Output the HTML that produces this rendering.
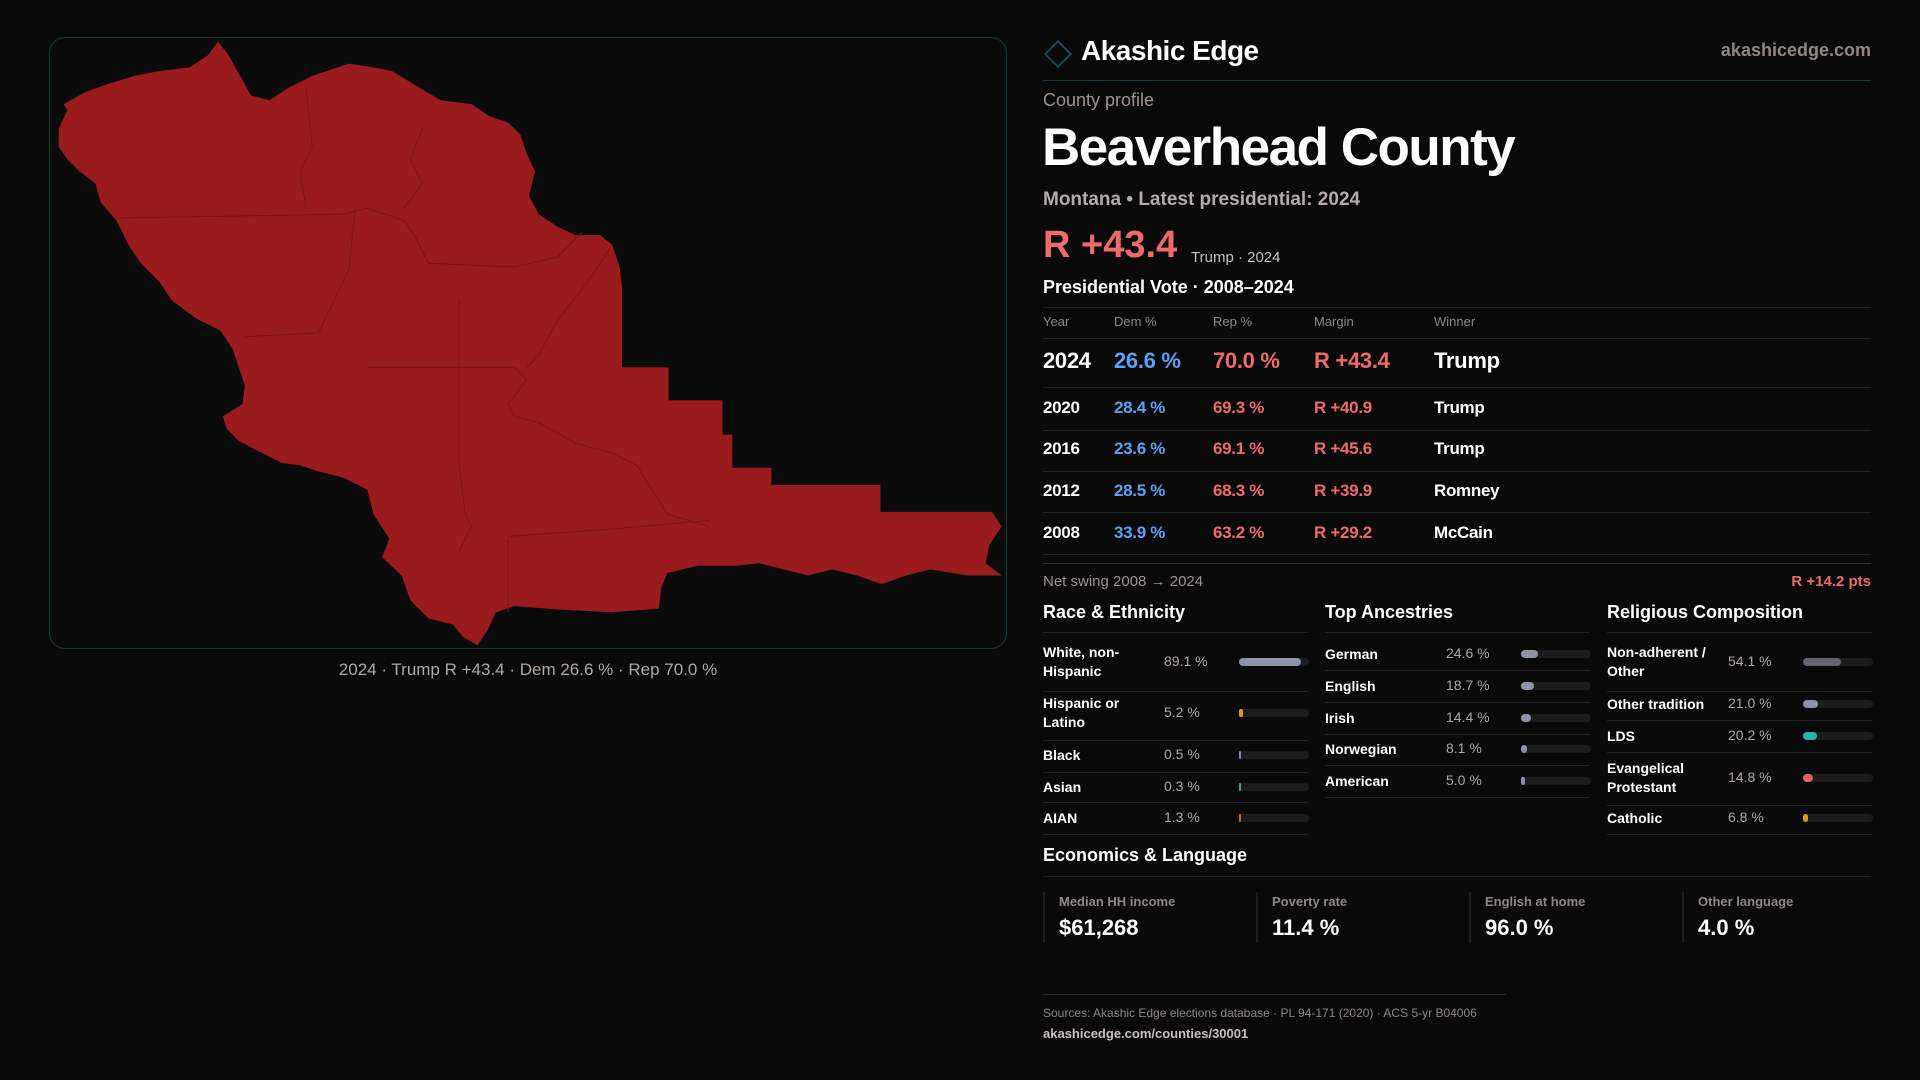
<!DOCTYPE html>
<html><head><meta charset="utf-8">
<style>
*{margin:0;padding:0;box-sizing:border-box}
body{width:1920px;height:1080px;background:#0a0909;font-family:"Liberation Sans",sans-serif;color:#fff;position:relative;overflow:hidden}
.a{position:absolute;white-space:nowrap}
.g{color:#9d948e}
.rule{position:absolute;height:1px;background:#222}
.dem{color:#5aa2f5}.rep{color:#f06a6a}
</style></head><body>
<div class="a" style="left:49px;top:37px;width:958px;height:612px;border:1px solid #123a3f;border-radius:16px;background:#0b0b0c"></div>
<svg class="a" style="left:0;top:0" width="1920" height="1080" viewBox="0 0 1568 882">
<polygon fill="#9a1b1e" points="178,34 186,44 195,60 205,78 220,82 235,72 255,62 285,52 305,55 320,58 340,70 360,82 385,85 400,95 415,100 425,110 430,125 437,140 432,160 440,175 455,185 470,192 490,192 500,200 506,218 508,235 508,300 546,300 546,327 590,327 590,355 598,355 598,382 630,382 630,396 719,396 719,418 810,418 818,430 808,445 805,460 818,470 790,470 760,465 740,470 720,477 700,470 680,465 660,470 640,465 620,460 600,462 570,462 545,468 540,480 538,497 500,500 460,498 420,495 405,500 398,515 390,527 378,520 370,510 350,505 335,490 328,470 312,455 318,440 305,420 300,400 280,390 260,385 245,380 230,378 210,368 195,360 185,350 182,340 198,330 200,315 195,300 190,285 180,270 160,260 140,245 130,230 115,215 105,200 95,180 82,165 78,150 65,140 55,130 48,120 48,105 55,90 52,85 70,75 90,68 110,62 130,58 155,55 170,45"/>
<g fill="none" stroke="#7a1518" stroke-width="0.8">
<path d="M95,178 L280,175 L300,170 L330,180 L340,195 L350,215 L420,218 L455,210 L475,190"/>
<path d="M250,72 L255,120 L245,140 L250,170"/>
<path d="M345,105 L335,130 L345,150 L330,170"/>
<path d="M290,170 L285,220 L260,272 L200,275"/>
<path d="M375,245 L375,300 L375,380 L380,420 L385,430 L375,450"/>
<path d="M300,300 L420,300 L430,310 L415,330 L420,340 L440,345 L470,362 L500,370 L520,380 L545,420 L580,430"/>
<path d="M500,200 L480,230 L455,262 L440,290 L430,300"/>
<path d="M415,440 L415,500"/>
<path d="M415,438 L500,432 L580,425"/>
</g>
</svg>
<div class="a g" style="left:49px;width:958px;top:660px;text-align:center;font-size:17px;color:#b0a8a2">2024 · Trump R +43.4 · Dem 26.6 % · Rep 70.0 %</div>

<div class="a" style="left:1048px;top:44px;width:20px;height:20px;border:2px solid #154d55;transform:rotate(45deg)"></div>
<div class="a" style="left:1081px;top:35px;font-size:28px;font-weight:bold;letter-spacing:-0.5px">Akashic Edge</div>
<div class="a g" style="right:49px;top:40px;font-size:18px;font-weight:bold;color:#8f8882">akashicedge.com</div>
<div class="rule" style="left:1043px;width:828px;top:80px;background:#133a3f"></div>
<div class="a g" style="left:1043px;top:90px;font-size:18px">County profile</div>
<div class="a" style="left:1042px;top:117px;font-size:53px;font-weight:bold;letter-spacing:-1.5px">Beaverhead County</div>
<div class="a" style="left:1043px;top:189px;font-size:19px;font-weight:bold;color:#b4aca6">Montana • Latest presidential: 2024</div>
<div class="a rep" style="left:1043px;top:224px;font-size:38px;font-weight:bold">R +43.4</div>
<div class="a" style="left:1191px;top:249px;font-size:15px;color:#c8c0ba">Trump · 2024</div>
<div class="a" style="left:1043px;top:277px;font-size:18px;font-weight:bold">Presidential Vote · 2008–2024</div>
<div id="vt"></div>
<div class="a g" style="left:1043px;top:573px;font-size:15px">Net swing 2008 → 2024</div>
<div class="a rep" style="right:49px;top:573px;font-size:15px;font-weight:bold">R +14.2 pts</div>
<div id="pn"></div>
<div class="a" style="left:1043px;top:845px;font-size:18px;font-weight:bold">Economics &amp; Language</div>
<div class="rule" style="left:1043px;width:828px;top:876px"></div>
<div id="ec"></div>
<div class="rule" style="left:1043px;width:463px;top:994px;background:#2a2a2a"></div>
<div class="a g" style="left:1043px;top:1006px;font-size:12px;color:#8f8882">Sources: Akashic Edge elections database · PL 94-171 (2020) · ACS 5-yr B04006</div>
<div class="a" style="left:1043px;top:1026px;font-size:13px;font-weight:bold;color:#c8c0ba">akashicedge.com/counties/30001</div>

<script>
const years=["2024","2020","2016","2012","2008"];
const demPct=[26.6,28.4,23.6,28.5,33.9];
const repPct=[70.0,69.3,69.1,68.3,63.2];
const margins=[43.4,40.9,45.6,39.9,29.2];
const winners=["Trump","Trump","Trump","Romney","McCain"];
const raceLabels=["White, non-<br>Hispanic","Hispanic or<br>Latino","Black","Asian","AIAN"];
const raceValues=[89.1,5.2,0.5,0.3,1.3];
const ancLabels=["German","English","Irish","Norwegian","American"];
const ancValues=[24.6,18.7,14.4,8.1,5.0];
const relLabels=["Non-adherent /<br>Other","Other tradition","LDS","Evangelical<br>Protestant","Catholic"];
const relValues=[54.1,21.0,20.2,14.8,6.8];
const econLabels=["Median HH income","Poverty rate","English at home","Other language"];
const econValues=["$61,268","11.4 %","96.0 %","4.0 %"];

function el(parent,css,html,cls){const d=document.createElement('div');d.className='a '+(cls||'');d.style.cssText=css;d.innerHTML=html;parent.appendChild(d);return d;}
function rule(parent,x,w,y,c){const d=document.createElement('div');d.className='rule';d.style.cssText=`left:${x}px;width:${w}px;top:${y}px;`+(c?`background:${c}`:'');


parent.appendChild(d);}

const vt=document.getElementById('vt');
const colX=[1043,1114,1213,1314,1434];
["Year","Dem %","Rep %","Margin","Winner"].forEach((h,i)=>{const d=el(vt,`left:${colX[i]}px;top:314px;font-size:13px;color:#8f8882`,h);

});
rule(vt,1043,828,307);rule(vt,1043,828,338);
const rowY=[361,408,449,491,533];
const ruleY=[387,430,471,512,554];
years.forEach((y,i)=>{
 const fs=i==0?22:17, t=rowY[i]-fs*0.6;
 const cells=[[y,''],[demPct[i].toFixed(1)+' %','dem'],[repPct[i].toFixed(1)+' %','rep'],['R +'+margins[i].toFixed(1),'rep'],[winners[i],'']];
 cells.forEach((c,j)=>{const d=el(vt,`left:${colX[j]}px;top:${t}px;font-size:${fs}px;font-weight:bold;letter-spacing:-0.3px`,c[0],c[1]);
 
 });
 rule(vt,1043,828,ruleY[i]);
});
rule(vt,1043,828,563,'#333');

const pn=document.getElementById('pn');
function panel(x,title,labels,values,colors,rowsY,rules,nm){
 const h=el(pn,`left:${x}px;top:602px;font-size:18px;font-weight:bold`,title);
 
 
 rule(pn,x,265,632);
 labels.forEach((l,i)=>{
  const two=l.includes('<br>');
  const lb=el(pn,`left:${x}px;top:${rowsY[i]-(two?19:9)}px;font-size:14px;font-weight:bold;line-height:19px`,l);
  
  
  const v=el(pn,`left:${x+121}px;top:${rowsY[i]-9}px;font-size:14px;color:#b0a8a2`,values[i].toFixed(1)+' %');
  
  
  const tr=el(pn,`left:${x+196}px;top:${rowsY[i]-4}px;width:70px;height:8px;border-radius:4px;background:#1c1c1e`,'');
  
  
  const b=el(pn,`left:${x+196}px;top:${rowsY[i]-4}px;width:${Math.max(2,70*values[i]/100)}px;height:8px;border-radius:4px;background:${colors[i]}`,'');
  
  
  rule(pn,x,265,rules[i]);
 });
}
panel(1043,"Race &amp; Ethnicity",raceLabels,raceValues,["#8a94a6","#d4a017","#8b7fd6","#2bb39a","#d2691e"],[662,713,755,787,818],[691,740,772,802,834],'race');
panel(1325,"Top Ancestries",ancLabels,ancValues,["#8a94a6","#8a94a6","#8a94a6","#8a94a6","#8a94a6"],[654,686,718,749,781],[670,702,734,765,797],'ancestry');
panel(1607,"Religious Composition",relLabels,relValues,["#5f6470","#8a94a6","#2bb3a0","#e06060","#d4a017"],[662,704,736,778,818],[691,720,752,805,834],'religion');

const ec=document.getElementById('ec');
const ecX=[1043,1256,1469,1682];
econLabels.forEach((l,i)=>{
 const b=el(ec,`left:${ecX[i]}px;top:892px;width:2px;height:51px;background:#1e1e20`,'');
 
 
 const a=el(ec,`left:${ecX[i]+16}px;top:894px;font-size:13px;color:#8f8882;font-weight:bold`,l);
 
 
 const v=el(ec,`left:${ecX[i]+16}px;top:915px;font-size:22px;font-weight:bold`,econValues[i]);
 
 
});
</script>
</body></html>
